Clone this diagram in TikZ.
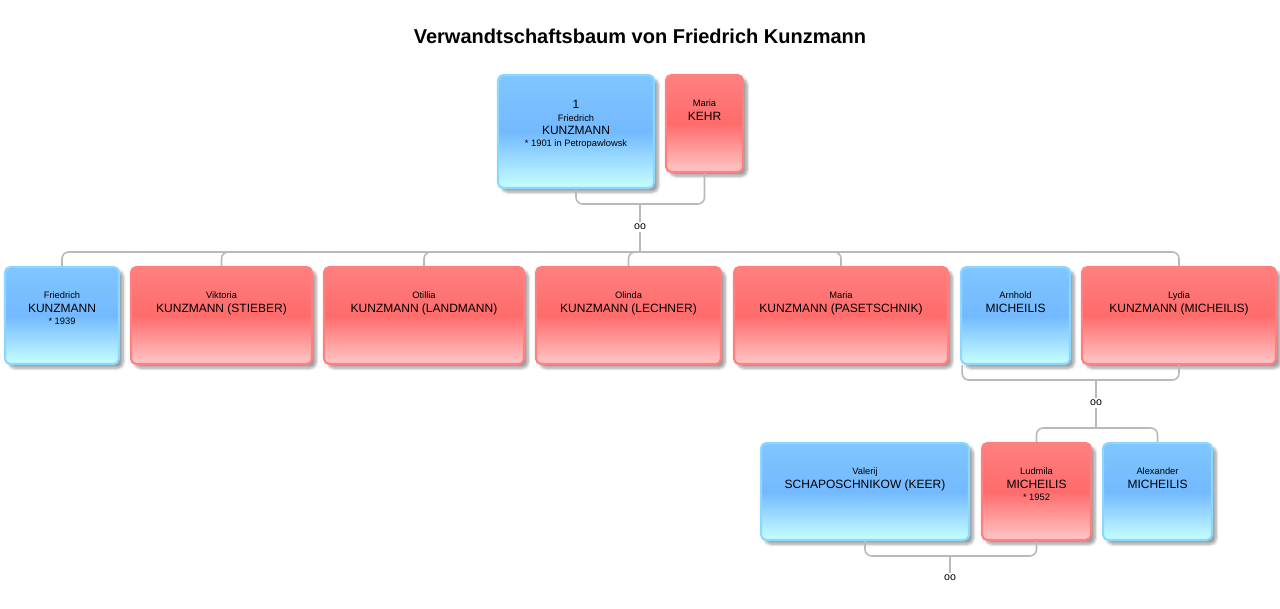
\documentclass[tikz,border=0pt]{standalone}
\usepackage{fontspec}
\setmainfont{Liberation Sans}
\usetikzlibrary{fit,shadows.blur}
\tikzset{
	person/.style={rounded corners=4pt, line width=1.6pt, inner sep=0pt,
		blur shadow={shadow xshift=3pt, shadow yshift=-3pt, shadow blur steps=6}},
	male/.style={person, draw=blue!35!cyan!45!white, top color=blue!45!cyan!50!white, bottom color=cyan!22!white, middle color=blue!50!cyan!55!white},
	female/.style={person, draw=red!50!white, top color=red!50!white, bottom color=red!22!white, middle color=red!58!white},
	conn/.style={draw=gray!55, line width=1.2pt, rounded corners=5pt},
	pname/.style={align=center, anchor=north, font=\fontsize{9}{11}\selectfont},
	first/.style={font=\fontsize{7}{8}\selectfont},
	union/.style={font=\fontsize{8}{9}\selectfont, inner sep=1pt},
}
\newcommand{\pbox}[7]{%
	\node[#6, fit={(#2,#3)(#4,#5)}] (#1) {};
	\node[pname] (#1t) at ([yshift=-16pt]#1.north) {#7};
}
\begin{document}
\begin{tikzpicture}[x=0.75pt, y=-0.75pt]
	\useasboundingbox (0,0) rectangle (1280,608);
	\node[font=\bfseries\fontsize{15}{18}\selectfont] (title) at (640,36) {Verwandtschaftsbaum von Friedrich Kunzmann};
	
	% generation 1
	\pbox{fk1}{498}{75}{654}{188}{male}{1\\[-1pt]{\fontsize{7}{9}\selectfont Friedrich}\\[-1pt]KUNZMANN\\[-2pt]{\fontsize{7}{9}\selectfont * 1901 in Petropawlowsk}}
	\pbox{mk}{666}{75}{743}{172}{female}{{\fontsize{7}{9}\selectfont Maria}\\[-1pt]KEHR}
	
	% generation 2
	\pbox{fk2}{5}{267}{119}{364}{male}{{\fontsize{7}{9}\selectfont Friedrich}\\[-1pt]KUNZMANN\\[-2pt]{\fontsize{7}{9}\selectfont * 1939}}
	\pbox{vk}{131}{267}{312}{364}{female}{{\fontsize{7}{9}\selectfont Viktoria}\\[-1pt]KUNZMANN (STIEBER)}
	\pbox{ok}{324}{267}{524}{364}{female}{{\fontsize{7}{9}\selectfont Otillia}\\[-1pt]KUNZMANN (LANDMANN)}
	\pbox{olk}{536}{267}{721}{364}{female}{{\fontsize{7}{9}\selectfont Olinda}\\[-1pt]KUNZMANN (LECHNER)}
	\pbox{mak}{734}{267}{948}{364}{female}{{\fontsize{7}{9}\selectfont Maria}\\[-1pt]KUNZMANN (PASETSCHNIK)}
	\pbox{am}{961}{267}{1070}{364}{male}{{\fontsize{7}{9}\selectfont Arnhold}\\[-1pt]MICHEILIS}
	\pbox{lk}{1082}{267}{1276}{364}{female}{{\fontsize{7}{9}\selectfont Lydia}\\[-1pt]KUNZMANN (MICHEILIS)}
	
	% generation 3
	\pbox{vs}{761}{443}{969}{540}{male}{{\fontsize{7}{9}\selectfont Valerij}\\[-1pt]SCHAPOSCHNIKOW (KEER)}
	\pbox{lm}{982}{443}{1091}{540}{female}{{\fontsize{7}{9}\selectfont Ludmila}\\[-1pt]MICHEILIS\\[-2pt]{\fontsize{7}{9}\selectfont * 1952}}
	\pbox{alm}{1103}{443}{1212}{540}{male}{{\fontsize{7}{9}\selectfont Alexander}\\[-1pt]MICHEILIS}
	
	% unions
	\node[union] (u1) at (640,227) {oo};
	\node[union] (u2) at (1096,403) {oo};
	\node[union] (u3) at (950,578) {oo};
	\coordinate (b1) at (640,204);
	\coordinate (c1) at (640,252);
	\coordinate (b2) at (1096,380);
	\coordinate (c2) at (1096,428);
	\coordinate (b3) at (950,556);
	
	\draw[conn] (fk1.south) |- (b1) -| (mk.south);
	\draw[conn] (b1) -- (u1.north);
	\draw[conn] (u1.south) -- (c1);
	\foreach \c in {fk2,vk,ok,olk,mak,lk}
		\draw[conn] (c1) -| (\c.north);
	
	\draw[conn] ([xshift=-40pt]am.south) |- (b2) -| (lk.south);
	\draw[conn] (b2) -- (u2.north);
	\draw[conn] (u2.south) -- (c2);
	\foreach \c in {lm,alm}
		\draw[conn] (c2) -| (\c.north);
	
	\draw[conn] (vs.south) |- (b3) -| (lm.south);
	\draw[conn] (b3) -- (u3.north);
\end{tikzpicture}
\end{document}
